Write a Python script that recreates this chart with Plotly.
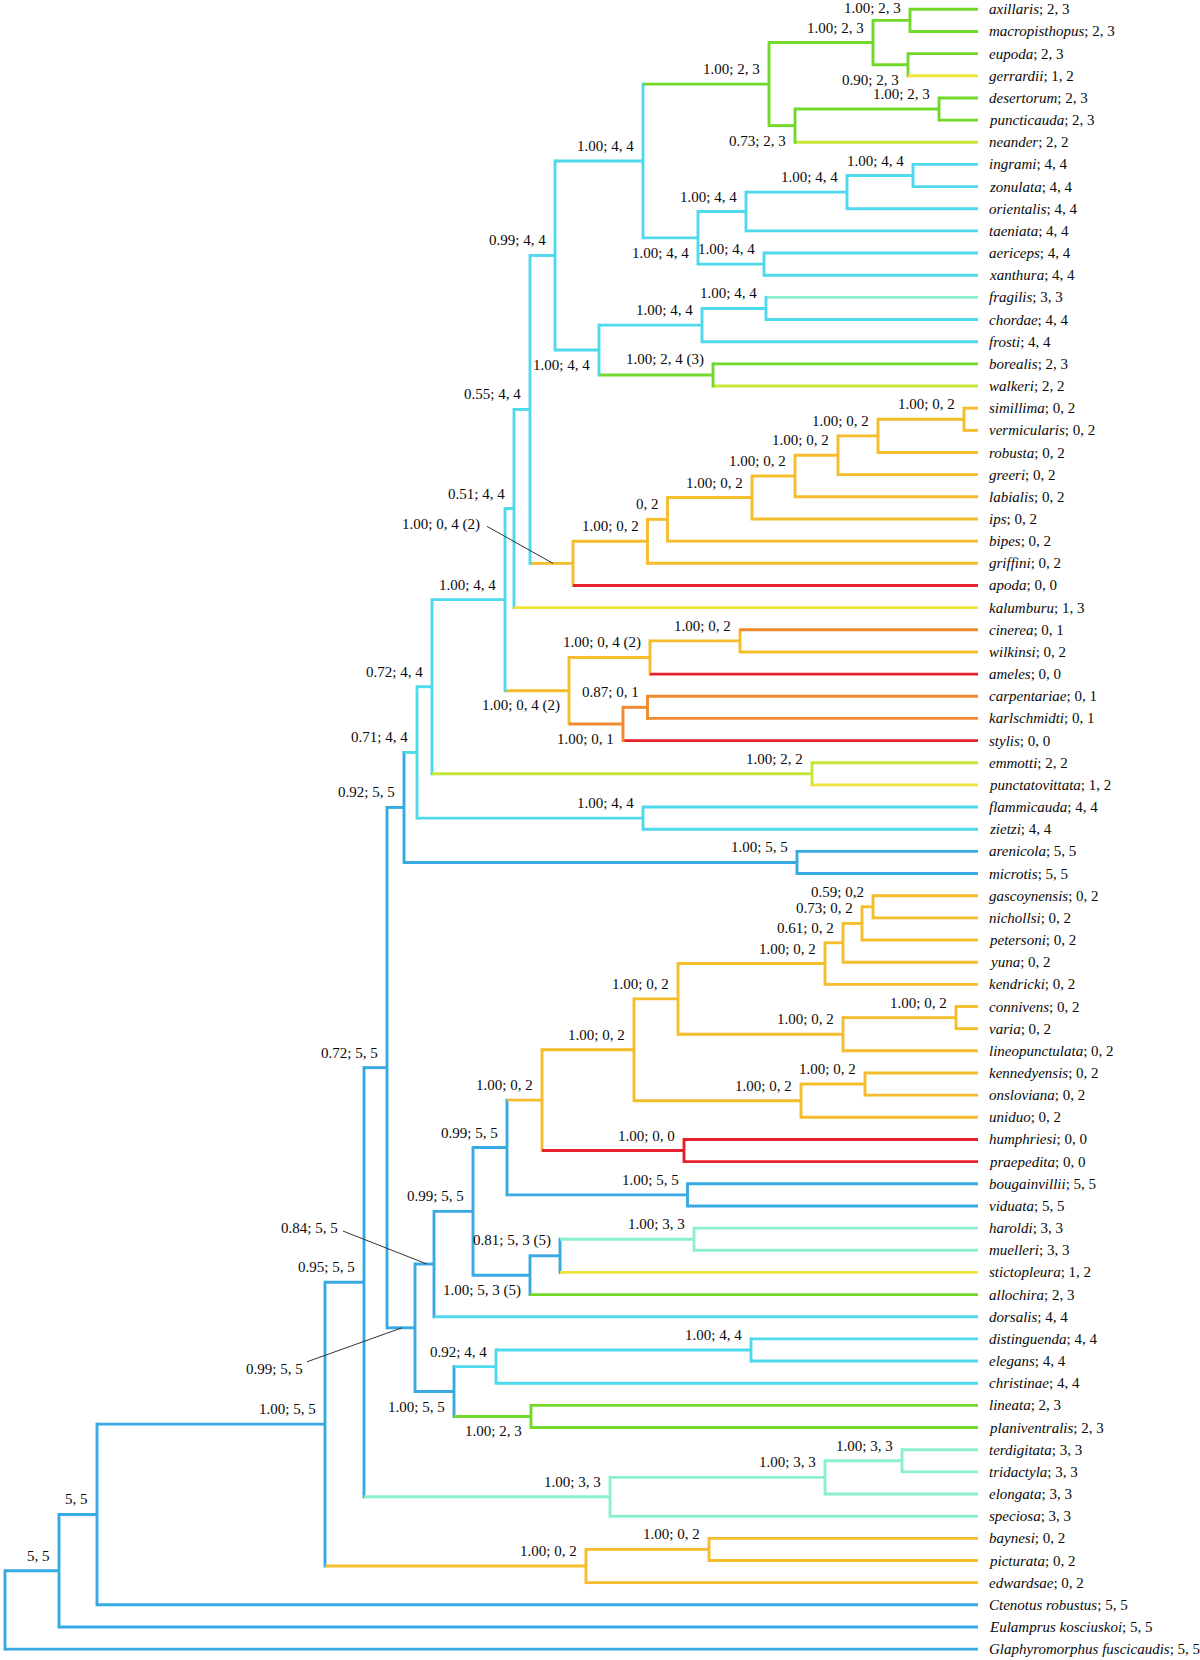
import plotly.graph_objects as go

# ---------------- data ----------------
LEAF_NAMES = [
    "axillaris", "macropisthopus", "eupoda", "gerrardii", "desertorum", "puncticauda", "neander",
    "ingrami", "zonulata", "orientalis", "taeniata", "aericeps", "xanthura", "fragilis", "chordae",
    "frosti", "borealis", "walkeri", "simillima", "vermicularis", "robusta", "greeri", "labialis",
    "ips", "bipes", "griffini", "apoda", "kalumburu", "cinerea", "wilkinsi", "ameles", "carpentariae",
    "karlschmidti", "stylis", "emmotti", "punctatovittata", "flammicauda", "zietzi", "arenicola",
    "microtis", "gascoynensis", "nichollsi", "petersoni", "yuna", "kendricki", "connivens", "varia",
    "lineopunctulata", "kennedyensis", "onsloviana", "uniduo", "humphriesi", "praepedita",
    "bougainvillii", "viduata", "haroldi", "muelleri", "stictopleura", "allochira", "dorsalis",
    "distinguenda", "elegans", "christinae", "lineata", "planiventralis", "terdigitata", "tridactyla",
    "elongata", "speciosa", "baynesi", "picturata", "edwardsae", "Ctenotus robustus",
    "Eulamprus kosciuskoi", "Glaphyromorphus fuscicaudis",
]
LEAF_STATES = [
    "2, 3", "2, 3", "2, 3", "1, 2", "2, 3", "2, 3", "2, 2",
    "4, 4", "4, 4", "4, 4", "4, 4", "4, 4", "4, 4", "3, 3", "4, 4",
    "4, 4", "2, 3", "2, 2", "0, 2", "0, 2", "0, 2", "0, 2", "0, 2",
    "0, 2", "0, 2", "0, 2", "0, 0", "1, 3", "0, 1", "0, 2", "0, 0", "0, 1",
    "0, 1", "0, 0", "2, 2", "1, 2", "4, 4", "4, 4", "5, 5",
    "5, 5", "0, 2", "0, 2", "0, 2", "0, 2", "0, 2", "0, 2", "0, 2",
    "0, 2", "0, 2", "0, 2", "0, 2", "0, 0", "0, 0",
    "5, 5", "5, 5", "3, 3", "3, 3", "1, 2", "2, 3", "4, 4",
    "4, 4", "4, 4", "4, 4", "2, 3", "2, 3", "3, 3", "3, 3",
    "3, 3", "3, 3", "0, 2", "0, 2", "0, 2", "5, 5",
    "5, 5", "5, 5",
]
LEAF_DEPTH = 978  # all tips aligned

# internal nodes: id, depth, children, support label, reconstructed state
NODE_IDS = []
NODE_DEPTH = {}
NODE_CHILDREN = {}
NODE_LABEL = {}
NODE_STATE = {}
_nodes = [
    ("R", 5, ["A", "Glaphyromorphus fuscicaudis"], "", "5, 5"),
    ("A", 59, ["B", "Eulamprus kosciuskoi"], "5, 5", "5, 5"),
    ("B", 97, ["C", "Ctenotus robustus"], "5, 5", "5, 5"),
    ("C", 325, ["D", "AI"], "1.00; 5, 5", "5, 5"),
    ("D", 364, ["E", "AF"], "0.95; 5, 5", "5, 5"),
    ("E", 387, ["F", "G"], "0.72; 5, 5", "5, 5"),
    ("F", 404, ["AK", "AL"], "0.92; 5, 5", "5, 5"),
    ("AK", 417, ["AM", "AN"], "0.71; 4, 4", "4, 4"),
    ("AM", 432, ["AO", "AP"], "0.72; 4, 4", "4, 4"),
    ("AO", 505, ["AQ", "AR"], "1.00; 4, 4", "4, 4"),
    ("AQ", 514, ["AS", "kalumburu"], "0.51; 4, 4", "4, 4"),
    ("AS", 530, ["AT", "AU"], "0.55; 4, 4", "4, 4"),
    ("AT", 555, ["BG", "BH"], "0.99; 4, 4", "4, 4"),
    ("BG", 643, ["BI", "BJ"], "1.00; 4, 4", "4, 4"),
    ("BI", 769, ["BK", "BL"], "1.00; 2, 3", "2, 3"),
    ("BK", 873, ["BM", "BN"], "1.00; 2, 3", "2, 3"),
    ("BM", 910, ["axillaris", "macropisthopus"], "1.00; 2, 3", "2, 3"),
    ("BN", 908, ["eupoda", "gerrardii"], "0.90; 2, 3", "2, 3"),
    ("BL", 795, ["BO", "neander"], "0.73; 2, 3", "2, 3"),
    ("BO", 939, ["desertorum", "puncticauda"], "1.00; 2, 3", "2, 3"),
    ("BJ", 698, ["BP", "BQ"], "1.00; 4, 4", "4, 4"),
    ("BP", 746, ["BR", "taeniata"], "1.00; 4, 4", "4, 4"),
    ("BR", 847, ["BS", "orientalis"], "1.00; 4, 4", "4, 4"),
    ("BS", 913, ["ingrami", "zonulata"], "1.00; 4, 4", "4, 4"),
    ("BQ", 764, ["aericeps", "xanthura"], "1.00; 4, 4", "4, 4"),
    ("BH", 599, ["BT", "BU"], "1.00; 4, 4", "4, 4"),
    ("BT", 702, ["BV", "frosti"], "1.00; 4, 4", "4, 4"),
    ("BV", 766, ["fragilis", "chordae"], "1.00; 4, 4", "4, 4"),
    ("BU", 713, ["borealis", "walkeri"], "1.00; 2, 4 (3)", "2, 3"),
    ("AU", 573, ["AV", "apoda"], "1.00; 0, 4 (2)", "0, 2"),
    ("AV", 647.5, ["AW", "griffini"], "1.00; 0, 2", "0, 2"),
    ("AW", 667.5, ["AX", "bipes"], "0, 2", "0, 2"),
    ("AX", 752, ["AY", "ips"], "1.00; 0, 2", "0, 2"),
    ("AY", 795, ["AZ", "labialis"], "1.00; 0, 2", "0, 2"),
    ("AZ", 838, ["BA", "greeri"], "1.00; 0, 2", "0, 2"),
    ("BA", 878, ["BB", "robusta"], "1.00; 0, 2", "0, 2"),
    ("BB", 964, ["simillima", "vermicularis"], "1.00; 0, 2", "0, 2"),
    ("AR", 569, ["BC", "BD"], "1.00; 0, 4 (2)", "0, 2"),
    ("BC", 650, ["BE", "ameles"], "1.00; 0, 4 (2)", "0, 2"),
    ("BE", 740, ["cinerea", "wilkinsi"], "1.00; 0, 2", "0, 2"),
    ("BD", 623, ["BF", "stylis"], "1.00; 0, 1", "0, 1"),
    ("BF", 647.5, ["carpentariae", "karlschmidti"], "0.87; 0, 1", "0, 1"),
    ("AP", 812, ["emmotti", "punctatovittata"], "1.00; 2, 2", "2, 2"),
    ("AN", 643, ["flammicauda", "zietzi"], "1.00; 4, 4", "4, 4"),
    ("AL", 797, ["arenicola", "microtis"], "1.00; 5, 5", "5, 5"),
    ("G", 415, ["H", "I"], "0.99; 5, 5", "5, 5"),
    ("H", 434, ["J", "dorsalis"], "0.84; 5, 5", "5, 5"),
    ("J", 473, ["K", "L"], "0.99; 5, 5", "5, 5"),
    ("K", 507, ["M", "N"], "0.99; 5, 5", "5, 5"),
    ("M", 542, ["O", "P"], "1.00; 0, 2", "0, 2"),
    ("O", 634, ["Q", "S"], "1.00; 0, 2", "0, 2"),
    ("Q", 678, ["T", "U"], "1.00; 0, 2", "0, 2"),
    ("T", 825, ["V", "kendricki"], "1.00; 0, 2", "0, 2"),
    ("V", 843, ["W", "yuna"], "0.61; 0, 2", "0, 2"),
    ("W", 862, ["X", "petersoni"], "0.73; 0, 2", "0, 2"),
    ("X", 873, ["gascoynensis", "nichollsi"], "0.59; 0,2", "0, 2"),
    ("U", 843, ["Y", "lineopunctulata"], "1.00; 0, 2", "0, 2"),
    ("Y", 956, ["connivens", "varia"], "1.00; 0, 2", "0, 2"),
    ("S", 801, ["Z", "uniduo"], "1.00; 0, 2", "0, 2"),
    ("Z", 865, ["kennedyensis", "onsloviana"], "1.00; 0, 2", "0, 2"),
    ("P", 684, ["humphriesi", "praepedita"], "1.00; 0, 0", "0, 0"),
    ("N", 687.5, ["bougainvillii", "viduata"], "1.00; 5, 5", "5, 5"),
    ("L", 530, ["AA", "allochira"], "1.00; 5, 3 (5)", "5, 5"),
    ("AA", 560, ["AB", "stictopleura"], "0.81; 5, 3 (5)", "5, 5"),
    ("AB", 694, ["haroldi", "muelleri"], "1.00; 3, 3", "3, 3"),
    ("I", 454, ["AC", "AD"], "1.00; 5, 5", "5, 5"),
    ("AC", 496, ["AE", "christinae"], "0.92; 4, 4", "4, 4"),
    ("AE", 751, ["distinguenda", "elegans"], "1.00; 4, 4", "4, 4"),
    ("AD", 531, ["lineata", "planiventralis"], "1.00; 2, 3", "2, 3"),
    ("AF", 610, ["AG", "speciosa"], "1.00; 3, 3", "3, 3"),
    ("AG", 825, ["AH", "elongata"], "1.00; 3, 3", "3, 3"),
    ("AH", 902, ["terdigitata", "tridactyla"], "1.00; 3, 3", "3, 3"),
    ("AI", 586, ["AJ", "edwardsae"], "1.00; 0, 2", "0, 2"),
    ("AJ", 709, ["baynesi", "picturata"], "1.00; 0, 2", "0, 2"),
]
for nid, dep, ch, lab, st in _nodes:
    NODE_IDS.append(nid)
    NODE_DEPTH[nid] = dep
    NODE_CHILDREN[nid] = ch
    NODE_LABEL[nid] = lab
    NODE_STATE[nid] = st

# ---------------- style ----------------
STATE_COLORS = {
    "5, 5": "#38a9e2",
    "4, 4": "#4fd9ec",
    "3, 3": "#8cf0cf",
    "2, 3": "#70d92a",
    "2, 2": "#c5e737",
    "1, 2": "#f0e43c",
    "1, 3": "#ece63a",
    "0, 2": "#f5bd2b",
    "0, 1": "#f18a2e",
    "0, 0": "#e6212b",
}
PAGE_W, PAGE_H = 1200, 1660
LEAF_Y0, LEAF_DY = 9.3, 22.16
LINE_W = 2.9
FONT = "Liberation Serif, Times New Roman, serif"
FS_NODE = 15
FS_LEAF = 15
TXT = "#0a0a0a"
BELOW = {"BN", "BL", "BJ", "BH", "AR", "BD", "L", "I", "AD"}
DY_OVERRIDE = {"BM": -12}
# leader-line labels: (label right dx, label dy, line start dx, line start dy, line end dx)
LEADERS = {
    "AU": (-91, -39, -86, -37, -20),
    "H": (-94, -36, -91, -33, -7),
    "G": (-110, 41, -108, 34, -13),
}

# ---------------- layout of tree ----------------
pos = {}
for i, name in enumerate(LEAF_NAMES):
    pos[name] = (LEAF_DEPTH, LEAF_Y0 + i * LEAF_DY)
leaf_state = dict(zip(LEAF_NAMES, LEAF_STATES))


def place(n):
    if n in pos:
        return pos[n]
    ys = [place(c)[1] for c in NODE_CHILDREN[n]]
    pos[n] = (NODE_DEPTH[n], (min(ys) + max(ys)) / 2)
    return pos[n]


place("R")


def state_of(n):
    return leaf_state.get(n, NODE_STATE.get(n))


segs = {}
for n in NODE_IDS:
    x, y = pos[n]
    cys = [pos[c][1] for c in NODE_CHILDREN[n]]
    col = STATE_COLORS[state_of(n)]
    segs.setdefault(col, ([], []))
    segs[col][0].extend([x, x, None])
    segs[col][1].extend([min(cys) - LINE_W / 2, max(cys) + LINE_W / 2, None])
    for c in NODE_CHILDREN[n]:
        cx, cy = pos[c]
        ccol = STATE_COLORS[state_of(c)]
        segs.setdefault(ccol, ([], []))
        segs[ccol][0].extend([x, cx, None])
        segs[ccol][1].extend([cy, cy, None])

fig = go.Figure()
for col, (xs, ys) in segs.items():
    fig.add_trace(go.Scatter(x=xs, y=ys, mode="lines", line=dict(color=col, width=LINE_W),
                             hoverinfo="skip", showlegend=False, cliponaxis=False))

annotations = []
shapes = []
for n in NODE_IDS:
    lab = NODE_LABEL[n]
    if not lab:
        continue
    x, y = pos[n]
    if n in LEADERS:
        ldx, ldy, sdx, sdy, edx = LEADERS[n]
        annotations.append(dict(x=x + ldx, y=y + ldy, text=lab, showarrow=False,
                                xanchor="right", yanchor="middle",
                                font=dict(family=FONT, size=FS_NODE, color=TXT)))
        shapes.append(dict(type="line", x0=x + sdx, y0=y + sdy, x1=x + edx, y1=y,
                           line=dict(color="#333333", width=1)))
        continue
    dy = DY_OVERRIDE.get(n, 15 if n in BELOW else -15)
    annotations.append(dict(x=x - 7, y=y + dy, text=lab, showarrow=False,
                            xanchor="right", yanchor="middle",
                            font=dict(family=FONT, size=FS_NODE, color=TXT)))

for name in LEAF_NAMES:
    x, y = pos[name]
    annotations.append(dict(x=x + 9, y=y, text=f"<i>{name}</i>; {leaf_state[name]}",
                            showarrow=False, xanchor="left", yanchor="middle",
                            font=dict(family=FONT, size=FS_LEAF, color=TXT)))

fig.update_layout(
    width=PAGE_W, height=PAGE_H,
    margin=dict(l=0, r=0, t=0, b=0),
    paper_bgcolor="white", plot_bgcolor="white",
    xaxis=dict(range=[0, PAGE_W], visible=False, fixedrange=True),
    yaxis=dict(range=[PAGE_H, 0], visible=False, fixedrange=True),
    annotations=annotations,
    shapes=shapes,
)
fig.write_html(
    "out.html",
    config={"displayModeBar": False},
    post_script="document.body.style.margin='0';document.body.style.overflow='hidden';",
)
